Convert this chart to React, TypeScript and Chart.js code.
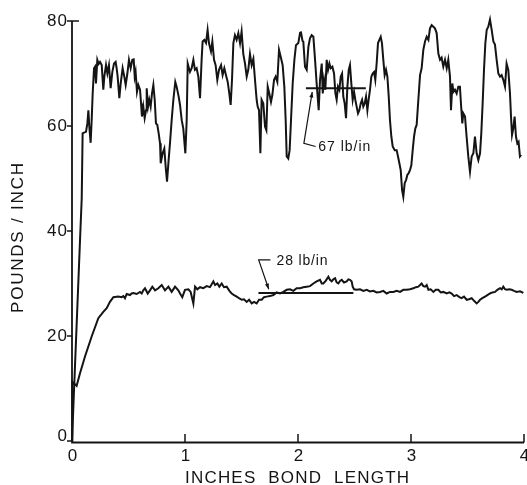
import React, { useEffect, useRef } from 'react';
import { Chart, registerables } from 'chart.js';

Chart.register(...registerables);

// ---------- data (inches of bond length vs pounds / inch) ----------
const upperX = [
  0, 0.071, 0.086, 0.094, 0.11, 0.124, 0.136, 0.145, 0.153, 0.165, 0.174, 0.183, 0.195, 0.204, 0.212, 0.224,
  0.236, 0.248, 0.263, 0.277, 0.286, 0.301, 0.313, 0.327, 0.342, 0.357, 0.372, 0.386, 0.395, 0.404, 0.419,
  0.431, 0.448, 0.463, 0.475, 0.49, 0.504, 0.519, 0.534, 0.546, 0.555, 0.563, 0.575, 0.587, 0.602, 0.611,
  0.619, 0.631, 0.643, 0.655, 0.661, 0.673, 0.684, 0.696, 0.708, 0.72, 0.732, 0.743, 0.755, 0.767, 0.779,
  0.785, 0.802, 0.817, 0.829, 0.841, 0.855, 0.867, 0.882, 0.897, 0.914, 0.926, 0.944, 0.956, 0.971, 0.985,
  1.003, 1.015, 1.024, 1.044, 1.059, 1.074, 1.088, 1.103, 1.118, 1.133, 1.147, 1.156, 1.171, 1.186, 1.2,
  1.212, 1.23, 1.242, 1.257, 1.271, 1.286, 1.301, 1.319, 1.333, 1.348, 1.366, 1.378, 1.392, 1.404, 1.416,
  1.428, 1.442, 1.457, 1.472, 1.487, 1.501, 1.516, 1.531, 1.546, 1.56, 1.575, 1.59, 1.605, 1.619, 1.634,
  1.643, 1.655, 1.667, 1.678, 1.693, 1.708, 1.72, 1.732, 1.746, 1.761, 1.773, 1.788, 1.802, 1.817, 1.832,
  1.85, 1.864, 1.879, 1.891, 1.9, 1.914, 1.926, 1.938, 1.953, 1.968, 1.982, 2.003, 2.018, 2.025, 2.04,
  2.047, 2.062, 2.077, 2.092, 2.106, 2.121, 2.136, 2.151, 2.165, 2.174, 2.183, 2.195, 2.21, 2.219, 2.23,
  2.242, 2.254, 2.266, 2.278, 2.289, 2.304, 2.319, 2.331, 2.342, 2.354, 2.366, 2.378, 2.39, 2.401, 2.413,
  2.425, 2.437, 2.449, 2.46, 2.472, 2.484, 2.496, 2.507, 2.519, 2.531, 2.543, 2.555, 2.567, 2.578, 2.59,
  2.602, 2.614, 2.625, 2.637, 2.649, 2.661, 2.673, 2.684, 2.696, 2.708, 2.72, 2.732, 2.743, 2.755, 2.767,
  2.779, 2.791, 2.803, 2.814, 2.826, 2.838, 2.856, 2.873, 2.885, 2.897, 2.909, 2.921, 2.932, 2.944, 2.956,
  2.968, 2.979, 2.991, 3.003, 3.015, 3.027, 3.038, 3.05, 3.065, 3.08, 3.094, 3.109, 3.124, 3.139, 3.154,
  3.168, 3.183, 3.198, 3.212, 3.227, 3.242, 3.257, 3.271, 3.286, 3.301, 3.316, 3.33, 3.345, 3.354, 3.366,
  3.375, 3.389, 3.404, 3.419, 3.433, 3.442, 3.454, 3.463, 3.478, 3.492, 3.507, 3.522, 3.537, 3.552, 3.566,
  3.581, 3.596, 3.611, 3.622, 3.634, 3.646, 3.658, 3.67, 3.684, 3.699, 3.714, 3.729, 3.743, 3.758, 3.773,
  3.788, 3.802, 3.817, 3.832, 3.846, 3.861, 3.876, 3.885, 3.894, 3.905, 3.917, 3.929, 3.941, 3.952, 3.964,
  3.975,
];
const upperY = [
  0, 38.3, 46.2, 58.6, 58.8, 58.9, 60.5, 63.0, 59.9, 56.8, 61.1, 66.2, 71.0, 71.3, 68.1, 72.6,
  71.8, 72.2, 71.6, 66.9, 69.4, 71.6, 70.0, 71.6, 67.2, 70.3, 71.9, 72.2, 71.0, 69.4, 65.3,
  68.1, 71.0, 69.4, 67.8, 70.0, 72.6, 71.0, 72.6, 72.7, 69.4, 70.3, 66.5, 67.8, 66.9, 64.3,
  61.8, 63.7, 61.5, 63.0, 67.2, 63.7, 65.0, 63.7, 66.2, 67.8, 65.0, 60.5, 60.2, 58.6, 56.7,
  52.9, 54.8, 55.7, 52.2, 49.4, 53.5, 56.7, 61.1, 65.0, 68.4, 67.5, 65.6, 64.0, 61.1, 59.5,
  54.8, 61.1, 71.9, 70.3, 71.0, 72.6, 70.7, 71.0, 69.4, 65.3, 72.6, 76.1, 76.4, 75.8, 78.3,
  75.8, 74.2, 76.1, 72.6, 71.6, 68.8, 70.7, 71.6, 69.7, 71.0, 69.4, 68.4, 66.2, 64.0, 68.8,
  75.8, 77.3, 76.4, 77.7, 75.8, 78.0, 73.7, 71.9, 69.4, 70.7, 73.7, 71.6, 72.8, 68.9, 65.0,
  63.7, 63.0, 54.8, 65.0, 64.3, 59.9, 59.2, 67.5, 66.2, 64.6, 65.9, 68.8, 69.4, 68.4, 74.5,
  72.9, 71.6, 67.5, 61.1, 54.2, 53.8, 55.4, 61.1, 68.1, 72.6, 75.4, 75.8, 77.7, 78.0, 76.2,
  76.1, 71.3, 70.7, 75.1, 76.7, 77.3, 77.0, 72.6, 68.1, 65.6, 63.0, 68.8, 71.9, 66.2, 68.8,
  66.9, 72.6, 70.7, 71.9, 71.0, 71.3, 70.0, 66.2, 65.0, 67.5, 66.9, 69.4, 70.0, 65.6, 64.3,
  61.5, 67.5, 70.7, 71.6, 68.1, 65.0, 66.5, 65.0, 63.7, 62.4, 63.0, 64.3, 65.0, 63.7, 64.3,
  65.6, 63.0, 65.0, 66.9, 69.4, 70.0, 70.3, 68.8, 71.9, 75.8, 76.4, 77.0, 75.8, 72.6, 69.7,
  70.7, 69.4, 65.6, 61.1, 58.0, 56.1, 55.4, 55.4, 54.2, 52.9, 51.6, 47.8, 46.5, 49.1, 49.7,
  50.7, 51.0, 51.6, 52.5, 55.4, 58.0, 59.5, 60.2, 65.0, 69.7, 71.0, 74.5, 76.1, 77.0, 76.4,
  78.6, 79.2, 78.9, 78.6, 77.7, 73.8, 72.6, 73.0, 71.3, 72.6, 71.0, 72.6, 69.4, 63.0, 68.1,
  66.5, 66.9, 66.2, 67.5, 67.5, 64.3, 60.5, 62.4, 61.8, 58.0, 54.2, 51.3, 54.2, 54.8, 58.0,
  54.8, 53.5, 54.8, 58.6, 64.3, 70.7, 75.8, 78.3, 78.9, 80.3, 78.3, 76.1, 75.5, 72.6, 70.0,
  69.4, 69.7, 68.8, 67.5, 71.9, 70.7, 66.2, 61.8, 58.3, 59.5, 61.8, 58.0, 56.7, 57.0, 54.2,
  54.5,
];

const lowerX = [
  0, 0.003, 0.041, 0.071, 0.115, 0.174, 0.233, 0.277, 0.307, 0.336, 0.366, 0.41, 0.439, 0.454, 0.469,
  0.484, 0.513, 0.528, 0.543, 0.572, 0.602, 0.617, 0.631, 0.646, 0.67, 0.69, 0.711, 0.735, 0.764, 0.794,
  0.823, 0.853, 0.882, 0.912, 0.941, 0.956, 0.976, 1.0, 1.03, 1.05, 1.074, 1.089, 1.109, 1.133, 1.162,
  1.192, 1.221, 1.251, 1.266, 1.286, 1.304, 1.325, 1.345, 1.369, 1.393, 1.413, 1.434, 1.458, 1.478, 1.502,
  1.522, 1.546, 1.567, 1.59, 1.611, 1.634, 1.655, 1.679, 1.699, 1.723, 1.752, 1.782, 1.811, 1.841, 1.87,
  1.9, 1.929, 1.959, 1.988, 2.018, 2.047, 2.077, 2.106, 2.136, 2.165, 2.195, 2.21, 2.224, 2.245, 2.269,
  2.283, 2.298, 2.313, 2.328, 2.342, 2.357, 2.372, 2.387, 2.407, 2.431, 2.446, 2.46, 2.475, 2.484, 2.496,
  2.519, 2.549, 2.578, 2.608, 2.637, 2.667, 2.696, 2.726, 2.755, 2.785, 2.814, 2.844, 2.873, 2.903, 2.932,
  2.962, 2.991, 3.021, 3.044, 3.065, 3.08, 3.094, 3.109, 3.124, 3.139, 3.154, 3.174, 3.198, 3.219, 3.242,
  3.263, 3.286, 3.316, 3.34, 3.36, 3.381, 3.404, 3.428, 3.448, 3.469, 3.493, 3.513, 3.537, 3.558, 3.581,
  3.596, 3.611, 3.631, 3.655, 3.676, 3.699, 3.72, 3.744, 3.764, 3.788, 3.803, 3.817, 3.832, 3.847, 3.87,
  3.891, 3.912, 3.935, 3.965, 3.994,
];
const lowerY = [
  0, 11.3, 10.5, 12.9, 16.1, 19.9, 23.4, 24.6, 25.3, 26.5, 27.4, 27.5, 27.4, 27.6, 27.2,
  28.0, 27.8, 28.1, 28.2, 28.0, 28.4, 28.1, 28.7, 29.1, 28.1, 28.7, 29.4, 28.7, 29.1, 29.7,
  28.7, 29.4, 28.4, 29.4, 28.7, 28.1, 27.4, 28.8, 28.9, 28.4, 26.2, 29.4, 28.9, 29.3, 29.1,
  29.5, 29.3, 30.4, 29.7, 30.0, 29.4, 30.0, 29.3, 29.4, 28.6, 28.1, 27.8, 27.5, 27.2, 26.9,
  27.0, 26.5, 26.9, 26.2, 26.5, 26.2, 26.9, 26.9, 27.4, 27.5, 27.6, 27.8, 28.3, 28.1, 28.4,
  28.8, 28.9, 28.6, 29.1, 29.1, 29.3, 29.4, 29.5, 30.0, 30.4, 30.7, 30.0, 30.0, 30.5, 31.3,
  30.7, 30.4, 30.8, 31.0, 30.2, 30.0, 30.5, 30.7, 30.2, 30.4, 30.8, 30.7, 30.4, 29.4, 28.9,
  28.8, 28.9, 28.6, 28.8, 28.5, 28.6, 28.3, 28.4, 28.6, 28.1, 28.4, 28.4, 28.6, 28.4, 28.8,
  28.8, 28.9, 29.1, 29.3, 29.4, 29.7, 30.0, 29.5, 29.4, 29.7, 28.8, 28.9, 28.4, 28.8, 28.8,
  28.3, 28.4, 28.1, 28.3, 28.1, 27.6, 27.8, 27.4, 27.2, 27.5, 26.9, 27.0, 27.2, 26.7, 26.2,
  26.5, 26.9, 27.2, 27.5, 27.8, 28.1, 28.3, 28.4, 28.8, 29.1, 28.9, 29.4, 28.9, 28.8, 28.9,
  28.8, 28.6, 28.4, 28.5, 28.2,
];

// average markers and their notes
const mean67Value = 67.2;
const mean67Range = [2.07, 2.6];
const mean28Value = 28.2;
const mean28Range = [1.65, 2.49];
const label67 = '67 lb/in';
const label28 = '28 lb/in';
const leader67X = [2.126, 2.052, 2.156];
const leader67Y = [66.5, 56.7, 56.1];
const label67At = [2.18, 56.0];
const leader28X = [1.756, 1.652, 1.741];
const leader28Y = [34.5, 34.5, 28.9];
const label28At = [1.81, 34.3];

// axes
const xTicks = [0, 1, 2, 3, 4];
const yTicks = [0, 20, 40, 60, 80];
const xTitle = 'INCHES  BOND  LENGTH';
const yTitle = 'POUNDS / INCH';

const INK = '#141414';
const FONT = '"Liberation Sans", Arial, sans-serif';

function spaced(ctx: CanvasRenderingContext2D, text: string, cx: number, cy: number, targetW: number) {
  (ctx as any).letterSpacing = '0px';
  const w = ctx.measureText(text).width;
  const ls = Math.max(0, (targetW - w) / Math.max(1, text.length - 1));
  (ctx as any).letterSpacing = ls + 'px';
  ctx.textAlign = 'left';
  ctx.textBaseline = 'middle';
  ctx.fillText(text, cx - targetW / 2, cy);
  (ctx as any).letterSpacing = '0px';
}

function arrowHead(ctx: CanvasRenderingContext2D, fx: number, fy: number, tx: number, ty: number) {
  const ang = Math.atan2(ty - fy, tx - fx);
  const L = 6;
  ctx.beginPath();
  ctx.moveTo(tx, ty);
  ctx.lineTo(tx - L * Math.cos(ang - 0.35), ty - L * Math.sin(ang - 0.35));
  ctx.lineTo(tx - L * Math.cos(ang + 0.35), ty - L * Math.sin(ang + 0.35));
  ctx.closePath();
  ctx.fill();
}

const paperPlugin = {
  id: 'paper',
  afterDraw(chart: any) {
    const { ctx, chartArea: a, scales } = chart;
    const xs = scales.x;
    const ys = scales.y;
    ctx.save();
    ctx.strokeStyle = INK;
    ctx.fillStyle = INK;
    ctx.lineCap = 'butt';

    // axis lines
    ctx.lineWidth = 1.8;
    ctx.beginPath();
    ctx.moveTo(a.left, a.top);
    ctx.lineTo(a.left, a.bottom + 1.5);
    ctx.lineTo(a.right, a.bottom + 1.5);
    ctx.stroke();

    // y ticks (outward)
    ctx.lineWidth = 1.5;
    ctx.beginPath();
    yTicks.forEach((v) => {
      const py = ys.getPixelForValue(v);
      ctx.moveTo(a.left - 5, py);
      ctx.lineTo(v === yTicks[yTicks.length - 1] ? a.left + 7 : a.left, py);
    });
    // x ticks (inward)
    xTicks.forEach((v) => {
      if (v === 0) return;
      const px = xs.getPixelForValue(v);
      ctx.moveTo(px, a.bottom + 1.5);
      ctx.lineTo(px, a.bottom - 7);
    });
    ctx.stroke();

    // tick labels
    ctx.font = `17px ${FONT}`;
    ctx.textBaseline = 'middle';
    ctx.textAlign = 'right';
    (ctx as any).letterSpacing = '1px';
    yTicks.forEach((v) => {
      const py = ys.getPixelForValue(v);
      ctx.fillText(String(v), a.left - 4, v === 0 ? py - 5 : py);
    });
    ctx.textAlign = 'center';
    xTicks.forEach((v) => {
      const px = xs.getPixelForValue(v);
      ctx.fillText(String(v), px + 1, a.bottom + 15);
    });
    (ctx as any).letterSpacing = '0px';

    // axis titles
    ctx.font = `17px ${FONT}`;
    spaced(ctx, xTitle, 297, a.bottom + 37, 224);
    ctx.save();
    ctx.translate(18, 238);
    ctx.rotate(-Math.PI / 2);
    spaced(ctx, yTitle, 0, 0, 150);
    ctx.restore();

    // leaders
    ctx.lineWidth = 1.2;
    const drawLeader = (lx: number[], ly: number[], headAtStart: boolean) => {
      const pts = lx.map((x, i) => [xs.getPixelForValue(x), ys.getPixelForValue(ly[i])]);
      ctx.beginPath();
      ctx.moveTo(pts[0][0], pts[0][1]);
      for (let i = 1; i < pts.length; i++) ctx.lineTo(pts[i][0], pts[i][1]);
      ctx.stroke();
      if (headAtStart) arrowHead(ctx, pts[1][0], pts[1][1], pts[0][0], pts[0][1]);
      else {
        const n = pts.length;
        arrowHead(ctx, pts[n - 2][0], pts[n - 2][1], pts[n - 1][0], pts[n - 1][1]);
      }
    };
    drawLeader(leader67X, leader67Y, true);
    drawLeader(leader28X, leader28Y, false);

    ctx.font = `14px ${FONT}`;
    const l67x = xs.getPixelForValue(label67At[0]);
    const l67y = ys.getPixelForValue(label67At[1]);
    spaced(ctx, label67, l67x + 26, l67y, 52);
    const l28x = xs.getPixelForValue(label28At[0]);
    const l28y = ys.getPixelForValue(label28At[1]);
    spaced(ctx, label28, l28x + 25.5, l28y, 51);

    ctx.restore();
  },
};

export default function App() {
  const ref = useRef<HTMLCanvasElement | null>(null);

  useEffect(() => {
    if (!ref.current) return;
    const toPts = (xs: number[], ys: number[]) => xs.map((x, i) => ({ x, y: ys[i] }));
    const line = (data: any[], width: number) => ({
      data,
      borderColor: INK,
      borderWidth: width,
      pointRadius: 0,
      tension: 0,
      fill: false,
      clip: false as any,
    });
    const chart = new Chart(ref.current, {
      type: 'line',
      data: {
        datasets: [
          line(toPts(upperX, upperY), 2),
          line(toPts(lowerX, lowerY), 2),
          line(mean67Range.map((x) => ({ x, y: mean67Value })), 2),
          line(mean28Range.map((x) => ({ x, y: mean28Value })), 2),
        ],
      },
      options: {
        responsive: false,
        animation: false,
        devicePixelRatio: 1,
        layout: { padding: { left: 72, right: 3, top: 21, bottom: 44 } },
        scales: {
          x: { type: 'linear', min: 0, max: 4, display: false },
          y: { type: 'linear', min: 0, max: 80, display: false },
        },
        plugins: {
          legend: { display: false },
          tooltip: { enabled: false },
        },
      },
      plugins: [paperPlugin],
    });
    return () => chart.destroy();
  }, []);

  return (
    <div style={{ position: 'fixed', left: 0, top: 0, width: 527, height: 485, background: '#fff' }}>
      <canvas ref={ref} width={527} height={485} style={{ width: 527, height: 485, display: 'block' }} />
    </div>
  );
}
